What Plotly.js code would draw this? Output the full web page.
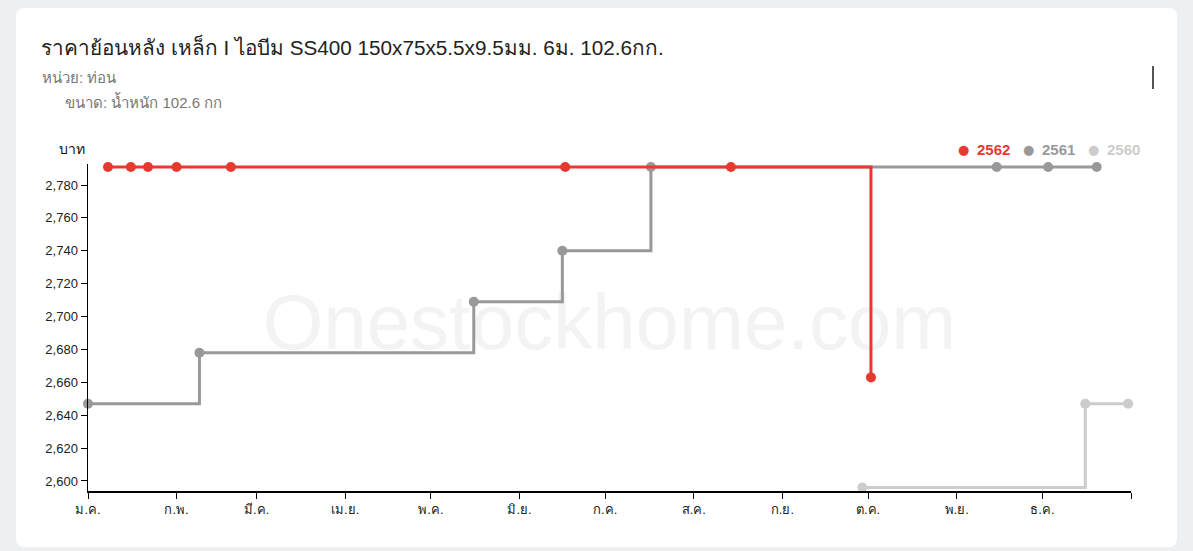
<!DOCTYPE html>
<html>
<head>
<meta charset="utf-8">
<script src="https://cdn.plot.ly/plotly-3.0.1.min.js"></script>
<style>
  html, body { margin:0; padding:0; width:1193px; height:551px; background:#eeeff1; overflow:hidden; }
  #card { position:absolute; left:16px; top:8px; width:1161px; height:539px; background:#fff; border-radius:8px; }
  #wm { position:absolute; left:0; width:1193px; top:275px; text-align:center; padding-left:26px; box-sizing:border-box;
        font-family:"Liberation Sans", Arial, sans-serif; font-size:78px; line-height:94px; color:#f3f3f3; }
  #chart { position:absolute; left:0; top:0; width:1193px; height:551px; }
</style>
</head>
<body>
<div id="card"></div>
<div id="wm">Onestockhome.com</div>
<div id="chart"></div>
<script>
// Month tick labels (Thai)
const monthTicks = ["2019-01-01","2019-02-01","2019-03-01","2019-04-01","2019-05-01","2019-06-01","2019-07-01","2019-08-01","2019-09-01","2019-10-01","2019-11-01","2019-12-01","2020-01-01"];
const monthLabels = ["ม.ค.","ก.พ.","มี.ค.","เม.ย.","พ.ค.","มิ.ย.","ก.ค.","ส.ค.","ก.ย.","ต.ค.","พ.ย.","ธ.ค.",""];

// Series 2562 (plotted on a common Jan-Dec axis)
const dates2562 = ["2019-01-08","2019-01-16","2019-01-22","2019-02-01","2019-02-20","2019-06-17","2019-08-14","2019-10-02"];
const values2562 = [2791,2791,2791,2791,2791,2791,2791,2663];

// Series 2561
const dates2561 = ["2019-01-01","2019-02-09","2019-05-16","2019-06-16","2019-07-17","2019-11-15","2019-12-03","2019-12-20"];
const values2561 = [2647,2678,2709,2740,2791,2791,2791,2791];

// Series 2560
const dates2560 = ["2019-09-29","2019-12-16","2019-12-31"];
const values2560 = [2596,2647,2647];

const seriesNames = ["2562","2561","2560"];
const colors = ["#e8392f","#999999","#cccccc"];

function tr(x, y, c, name){
  return {x:x, y:y, type:"scatter", mode:"lines+markers", name:name,
    line:{shape:"hv", color:c, width:3},
    marker:{size:10, color:c}, cliponaxis:false, hoverinfo:"x+y"};
}

const data = [
  tr(dates2560, values2560, colors[2], seriesNames[2]),
  tr(dates2561, values2561, colors[1], seriesNames[1]),
  tr(dates2562, values2562, colors[0], seriesNames[0])
];

const W = 1193, H = 551;
const ml = 88, mr = 62, mt = 164, mb = 60;
const pw = W - ml - mr, ph = H - mt - mb;
function px(x){ return (x - ml) / pw; }
function py(y){ return (H - mb - y) / ph; }

const annotations = [
  {text:"ราคาย้อนหลัง เหล็ก I ไอบีม SS400 150x75x5.5x9.5มม. 6ม. 102.6กก.", xref:"paper", yref:"paper",
   x:px(39), y:py(46), xanchor:"left", yanchor:"middle", showarrow:false,
   font:{family:"Liberation Sans, Arial, sans-serif", size:20.7, color:"#222"}},
  {text:"หน่วย: ท่อน", xref:"paper", yref:"paper", x:px(40), y:py(77), xanchor:"left", yanchor:"middle", showarrow:false,
   font:{family:"Liberation Sans, Arial, sans-serif", size:15, color:"#777"}},
  {text:"ขนาด: น้ำหนัก 102.6 กก", xref:"paper", yref:"paper", x:px(63), y:py(101), xanchor:"left", yanchor:"middle", showarrow:false,
   font:{family:"Liberation Sans, Arial, sans-serif", size:15, color:"#777"}},
  {text:"บาท", xref:"paper", yref:"paper", x:px(87), y:py(149), xanchor:"right", yanchor:"middle", showarrow:false,
   font:{family:"Liberation Sans, Arial, sans-serif", size:14, color:"#111"}}
];
const legendX = [963, 1028, 1093];
for (let i = 0; i < 3; i++) {
  annotations.push({text:"●", xref:"paper", yref:"paper", x:px(legendX[i]), y:py(149), xanchor:"center", yanchor:"middle",
    showarrow:false, font:{family:"DejaVu Sans", size:13, color:colors[i]}});
  annotations.push({text:"<b>"+seriesNames[i]+"</b>", xref:"paper", yref:"paper", x:px(legendX[i]+12), y:py(149), xanchor:"left", yanchor:"middle",
    showarrow:false, font:{family:"Liberation Sans, Arial", size:15, color:colors[i]}});
}

const layout = {
  width:W, height:H,
  margin:{l:ml, r:mr, t:mt, b:mb},
  paper_bgcolor:"rgba(0,0,0,0)", plot_bgcolor:"rgba(0,0,0,0)",
  showlegend:false,
  font:{family:"Liberation Sans, Arial", size:12, color:"#222"},
  xaxis:{type:"date", range:["2019-01-01","2020-01-01"], tickvals:monthTicks, ticktext:monthLabels,
    showgrid:false, zeroline:false, showline:true, linecolor:"#000", linewidth:1.5,
    ticks:"outside", ticklen:6, tickcolor:"#000", tickwidth:1,
    tickfont:{family:"Liberation Sans, Arial, sans-serif", size:13, color:"#222"}},
  yaxis:{range:[2593.9, 2792.8], tickvals:[2600,2620,2640,2660,2680,2700,2720,2740,2760,2780], tickformat:",d",
    showgrid:false, zeroline:false, showline:true, linecolor:"#000", linewidth:1.5,
    ticks:"outside", ticklen:6, tickcolor:"#000", tickwidth:1,
    tickfont:{family:"Liberation Sans, Arial", size:13, color:"#222"}},
  annotations:annotations,
  shapes:[{type:"line", xref:"paper", yref:"paper", x0:px(1153), x1:px(1153), y0:py(66), y1:py(89),
    line:{color:"#555", width:2}}]
};

Plotly.newPlot("chart", data, layout, {displayModeBar:false, staticPlot:true});
</script>
</body>
</html>
